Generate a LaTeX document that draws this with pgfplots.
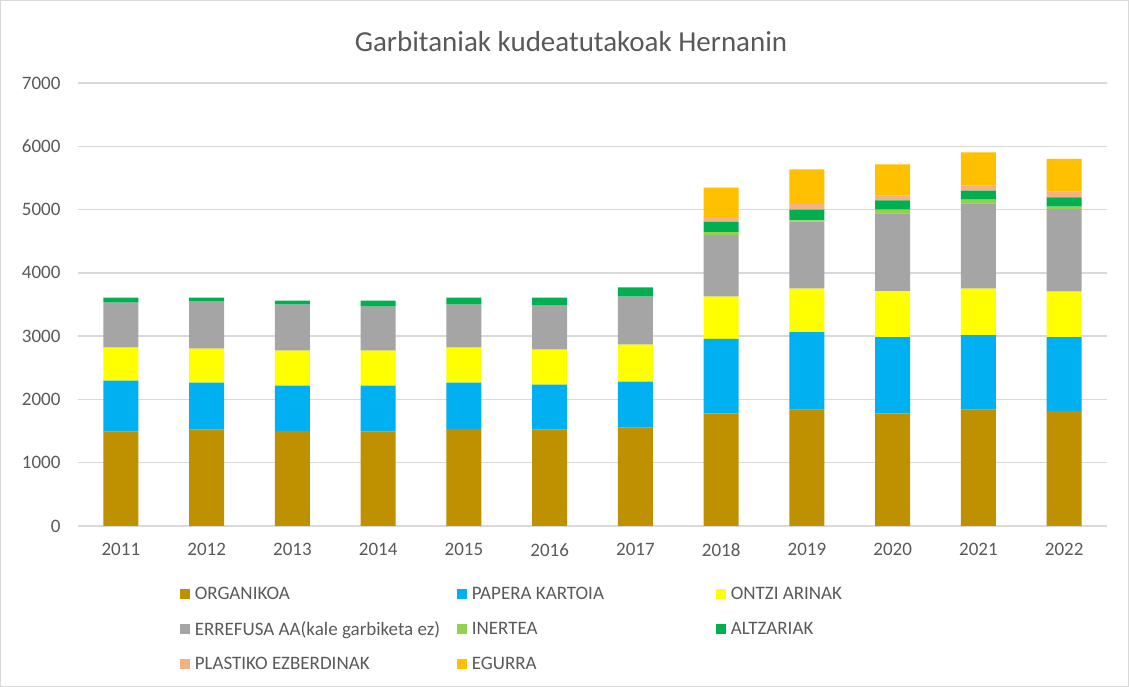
\documentclass[border=0pt]{standalone}
\usepackage{fontspec}
\setmainfont{Carlito}
\usepackage{pgfplots}
\usepackage{pgfplotstable}
\pgfplotsset{compat=1.18}
\definecolor{corg}{HTML}{BF9000}
\definecolor{cpap}{HTML}{00B0F0}
\definecolor{cont}{HTML}{FFFF00}
\definecolor{cerr}{HTML}{A5A5A5}
\definecolor{cine}{HTML}{92D050}
\definecolor{calt}{HTML}{00B050}
\definecolor{cpla}{HTML}{F4B183}
\definecolor{cegu}{HTML}{FFC000}
\definecolor{txt}{HTML}{595959}
\definecolor{gridc}{HTML}{D9D9D9}
\pgfplotstableread{
x org pap ont err ine alt pla egu
0 1490 806 521 711 0 79 0 0
1 1522 743 536 743 0 63 0 0
2 1501 716 553 727 0 63 0 0
3 1490 727 553 695 0 95 0 0
4 1533 732 552 680 0 110 0 0
5 1522 711 553 695 0 126 0 0
6 1554 727 584 758 0 148 0 0
7 1780 1175 668 974 48 163 74 463
8 1838 1227 684 1059 21 169 89 548
9 1780 1206 727 1227 58 147 79 490
10 1838 1180 731 1349 58 142 84 521
11 1817 1169 716 1306 37 148 89 521
}\datatable
\newcommand{\legA}[1]{\makebox[264pt][l]{\hspace{3pt}#1}}
\newcommand{\legB}[1]{\makebox[246pt][l]{\hspace{3pt}#1}}
\begin{document}
\begin{tikzpicture}[x=1pt,y=1pt]
\path[use as bounding box] (0,0) rectangle (1129,687);
\draw[color=gridc] (0.5,0.5) rectangle (1128.5,686.5);
\node[text=txt, font=\fontsize{29}{33}\selectfont] at (571,645) {Garbitaniak kudeatutakoak Hernanin};
\begin{axis}[
  at={(78pt,161pt)}, anchor=south west, scale only axis,
  width=1029pt, height=443pt,
  ybar stacked, bar width=35pt,
  xmin=-0.5, xmax=11.5, ymin=0, ymax=7000,
  xtick={0,...,11},
  xticklabels={2011,2012,2013,2014,2015,2016,2017,2018,2019,2020,2021,2022},
  ytick={0,1000,...,7000},
  ymajorgrids, grid style={color=gridc, line width=1.3pt},
  axis line style={draw=none},
  major tick length=0pt,
  /pgf/number format/assume math mode=true,
  /pgf/number format/1000 sep={},
  tick label style={font=\fontsize{19}{22}\selectfont, text=txt},
  xticklabel style={yshift=-14pt},
  yticklabel style={xshift=-14pt},
  legend columns=3,
  legend cell align=left,
  legend style={at={(0.0992,-0.1335)}, anchor=north west, draw=none, fill=none,
    font=\fontsize{19}{22}\selectfont, text=txt, row sep=17.5pt, inner sep=0pt,
    nodes={inner sep=1.5pt}},
  legend image code/.code={\fill[#1] (0pt,-5pt) rectangle (10pt,5pt);},
]
\addplot[fill=corg, draw=none] table[x=x,y=org]{\datatable};
\addlegendentry{\legA{ORGANIKOA}}
\addplot[fill=cpap, draw=none] table[x=x,y=pap]{\datatable};
\addlegendentry{\legB{PAPERA KARTOIA}}
\addplot[fill=cont, draw=none] table[x=x,y=ont]{\datatable};
\addlegendentry{\hspace{3pt}ONTZI ARINAK}
\addplot[fill=cerr, draw=none] table[x=x,y=err]{\datatable};
\addlegendentry{\legA{ERREFUSA AA(kale garbiketa ez)}}
\addplot[fill=cine, draw=none] table[x=x,y=ine]{\datatable};
\addlegendentry{\legB{INERTEA}}
\addplot[fill=calt, draw=none] table[x=x,y=alt]{\datatable};
\addlegendentry{\hspace{3pt}ALTZARIAK}
\addplot[fill=cpla, draw=none] table[x=x,y=pla]{\datatable};
\addlegendentry{\legA{PLASTIKO EZBERDINAK}}
\addplot[fill=cegu, draw=none] table[x=x,y=egu]{\datatable};
\addlegendentry{\legB{EGURRA}}
\end{axis}
\end{tikzpicture}
\end{document}
